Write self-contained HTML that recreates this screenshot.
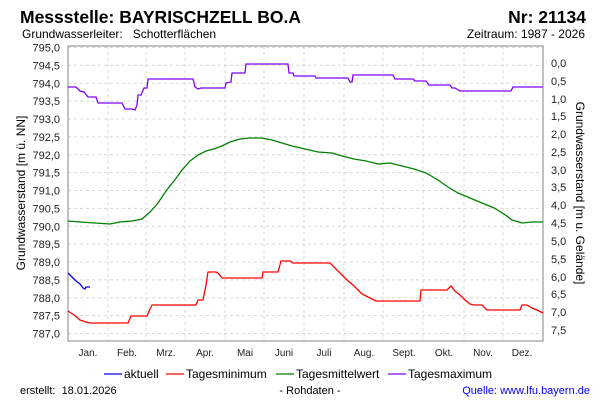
<!DOCTYPE html>
<html><head><meta charset="utf-8"><style>
body{margin:0;background:#fff;}
svg{display:block;font-family:"Liberation Sans",sans-serif;}
</style></head><body>
<svg width="600" height="400" viewBox="0 0 600 400">
<text x="20" y="23" font-size="17.5" font-weight="bold">Messstelle: BAYRISCHZELL BO.A</text>
<text x="586" y="23" font-size="17.5" font-weight="bold" text-anchor="end">Nr: 21134</text>
<text x="22" y="38" font-size="12">Grundwasserleiter:&#160;&#160;&#160;Schotterflächen</text>
<text x="585" y="38" font-size="12" text-anchor="end">Zeitraum: 1987 - 2026</text>
<g stroke="#d8d8d8" stroke-dasharray="3,3" stroke-width="1">
<line x1="68" x2="543" y1="47.5" y2="47.5"/><line x1="68" x2="543" y1="65.4" y2="65.4"/><line x1="68" x2="543" y1="83.3" y2="83.3"/><line x1="68" x2="543" y1="101.1" y2="101.1"/><line x1="68" x2="543" y1="119" y2="119"/><line x1="68" x2="543" y1="136.9" y2="136.9"/><line x1="68" x2="543" y1="154.8" y2="154.8"/><line x1="68" x2="543" y1="172.6" y2="172.6"/><line x1="68" x2="543" y1="190.5" y2="190.5"/><line x1="68" x2="543" y1="208.4" y2="208.4"/><line x1="68" x2="543" y1="226.3" y2="226.3"/><line x1="68" x2="543" y1="244.1" y2="244.1"/><line x1="68" x2="543" y1="262" y2="262"/><line x1="68" x2="543" y1="279.9" y2="279.9"/><line x1="68" x2="543" y1="297.8" y2="297.8"/><line x1="68" x2="543" y1="315.6" y2="315.6"/><line x1="68" x2="543" y1="333.5" y2="333.5"/>
<line y1="46" y2="341" x1="108" x2="108"/><line y1="46" y2="341" x1="146" x2="146"/><line y1="46" y2="341" x1="185" x2="185"/><line y1="46" y2="341" x1="225" x2="225"/><line y1="46" y2="341" x1="264" x2="264"/><line y1="46" y2="341" x1="304" x2="304"/><line y1="46" y2="341" x1="344" x2="344"/><line y1="46" y2="341" x1="383" x2="383"/><line y1="46" y2="341" x1="423" x2="423"/><line y1="46" y2="341" x1="464" x2="464"/><line y1="46" y2="341" x1="503" x2="503"/>
</g>
<rect x="68" y="46" width="475" height="295" fill="none" stroke="#999" stroke-width="1.2"/>
<g font-size="11" fill="#222" text-anchor="end">
<text x="60" y="51.5">795,0</text><text x="60" y="69.4">794,5</text><text x="60" y="87.3">794,0</text><text x="60" y="105.1">793,5</text><text x="60" y="123">793,0</text><text x="60" y="140.9">792,5</text><text x="60" y="158.8">792,0</text><text x="60" y="176.6">791,5</text><text x="60" y="194.5">791,0</text><text x="60" y="212.4">790,5</text><text x="60" y="230.3">790,0</text><text x="60" y="248.1">789,5</text><text x="60" y="266">789,0</text><text x="60" y="283.9">788,5</text><text x="60" y="301.8">788,0</text><text x="60" y="319.6">787,5</text><text x="60" y="337.5">787,0</text>
</g>
<g font-size="11" fill="#222">
<text x="551" y="67">0,0</text><text x="551" y="85">0,5</text><text x="551" y="103">1,0</text><text x="551" y="120">1,5</text><text x="551" y="138">2,0</text><text x="551" y="156">2,5</text><text x="551" y="174">3,0</text><text x="551" y="191">3,5</text><text x="551" y="209">4,0</text><text x="551" y="227">4,5</text><text x="551" y="245">5,0</text><text x="551" y="263">5,5</text><text x="551" y="281">6,0</text><text x="551" y="298">6,5</text><text x="551" y="316">7,0</text><text x="551" y="334">7,5</text>
</g>
<g font-size="10" fill="#222" text-anchor="middle">
<text x="88" y="356">Jan.</text><text x="127" y="356">Feb.</text><text x="166" y="356">Mrz.</text><text x="205" y="356">Apr.</text><text x="245" y="356">Mai</text><text x="284" y="356">Juni</text><text x="324" y="356">Juli</text><text x="364" y="356">Aug.</text><text x="404" y="356">Sept.</text><text x="444" y="356">Okt.</text><text x="483" y="356">Nov.</text><text x="522" y="356">Dez.</text>
</g>
<text transform="translate(25,193) rotate(-90)" font-size="12" text-anchor="middle">Grundwasserstand [m ü. NN]</text>
<text transform="translate(576,193) rotate(90)" font-size="12" text-anchor="middle">Grundwasserstand [m u. Gelände]</text>
<g fill="none" stroke-width="1.3">
<polyline stroke="#7f00ff" points="68,87 76,87 80,91 84,92 88,97 96,97 98,103 122,103 125,109 132,109 135,110 137,105 138,95 141,95 144,88 147,88 148,79 193,79 195,87 198,89 201,88 225,88 226,83 231,82 232,73 245,73 246,64 288,64 289,73 293,73 294,76 315,76 316,78 348,78 350,82 352,82 353,75 393,75 395,79 413,79 415,81 426,81 429,85 450,85 452,88 455,88 460,91 511,91 513,87 543,87"/>
<polyline stroke="#008000" points="68,221 80,222 95,223 110,224 120,222 132,221 142,219 150,212 158,203 166,191 174,181 182,170 190,161 198,155 206,151 214,149 222,146 230,142 240,139 250,138 262,138 272,140 282,143 292,146 305,149 318,152 332,153 342,156 354,159 366,161 378,164 390,163 402,166 414,169 426,173 438,180 448,187 458,193 470,198 482,203 494,208 504,214 512,220 522,223 532,222 543,222"/>
<polyline stroke="#ff0000" points="68,311 74,315 80,320 86,322 90,323 128,323 131,316 147,316 150,309 152,305 196,305 198,300 203,300 206,285 208,272 216,272 218,273 222,278 262,278 263,272 278,272 281,261 290,261 293,263 330,263 338,271 346,279 354,286 362,294 370,298 376,301 420,301 421,290 447,290 451,286 455,291 460,295 465,300 470,304 474,305 482,305 487,310 520,310 522,305 527,305 532,308 537,310 543,313"/>
<polyline stroke="#0000ff" points="68,273 72,277 76,281 80,284 83,288 85,289 86,287 90,287"/>
</g>
<g font-size="12">
<line x1="104" y1="374" x2="122" y2="374" stroke="#0000ff" stroke-width="1.3"/><text x="124" y="378">aktuell</text>
<line x1="166" y1="374" x2="184" y2="374" stroke="#ff0000" stroke-width="1.3"/><text x="186" y="378">Tagesminimum</text>
<line x1="276" y1="374" x2="294" y2="374" stroke="#008000" stroke-width="1.3"/><text x="296" y="378">Tagesmittelwert</text>
<line x1="388" y1="374" x2="406" y2="374" stroke="#7f00ff" stroke-width="1.3"/><text x="408" y="378">Tagesmaximum</text>
</g>
<text x="20" y="394" font-size="11">erstellt:&#160;&#160;18.01.2026</text>
<text x="310" y="394" font-size="11" text-anchor="middle">- Rohdaten -</text>
<text x="590" y="394" font-size="11" text-anchor="end" fill="#0000ff">Quelle: www.lfu.bayern.de</text>
</svg>
</body></html>
